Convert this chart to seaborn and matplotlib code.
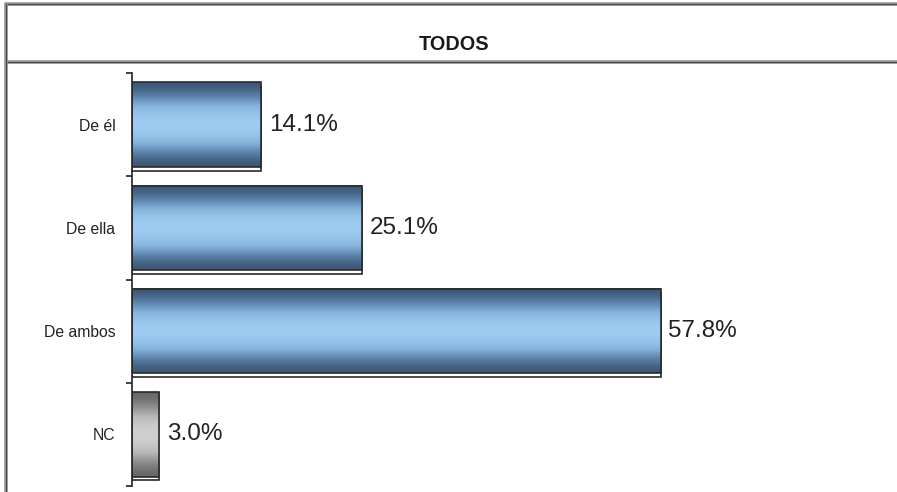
import numpy as np
import matplotlib
matplotlib.use("Agg")
import matplotlib.pyplot as plt
from matplotlib.colors import LinearSegmentedColormap
from matplotlib.patches import Rectangle
from matplotlib.lines import Line2D
import seaborn as sns

# data
categories = ["De él", "De ella", "De ambos", "NC"]
values = [14.1, 25.1, 57.8, 3.0]
value_labels = ["14.1%", "25.1%", "57.8%", "3.0%"]
title = "TODOS"

sns.set_theme(style="white")
plt.rcParams["font.family"] = ["Liberation Sans", "DejaVu Sans"]

W, H = 897, 492
fig = plt.figure(figsize=(W / 100, H / 100), dpi=100)
ax = fig.add_axes([132 / W, 1 - 486 / H, (891 - 132) / W, (486 - 73) / H])

sns.barplot(x=values, y=categories, orient="h", ax=ax, width=0.82,
            color="#7fa8cf", saturation=1, edgecolor="#2a2a2a", linewidth=1.2)

blue = LinearSegmentedColormap.from_list("blue", ["#3d5876", "#5f86ad", "#86b4de", "#9ecbef"])
grey = LinearSegmentedColormap.from_list("grey", ["#686868", "#8f8f8f", "#b8b8b8", "#d0d0d0"])
t = np.linspace(0, 1, 256)
grad = (np.sin(np.pi * t) ** 1.7).reshape(-1, 1)

for i, p in enumerate(ax.patches):
    x0, y0, w, h = p.get_x(), p.get_y(), p.get_width(), p.get_height()
    cmap = grey if categories[i] == "NC" else blue
    # drop shadow below the bar
    ax.add_patch(Rectangle((x0, y0 + 0.035), w, h, facecolor="white",
                           edgecolor="#2a2a2a", lw=1.2, zorder=1))
    ax.imshow(grad, extent=[x0, x0 + w, y0 + h, y0], aspect="auto",
              cmap=cmap, vmin=0, vmax=1, zorder=2, interpolation="bilinear")
    p.set_facecolor("none")
    p.set_zorder(3)
    ax.text(x0 + w + 0.85, y0 + h / 2, value_labels[i], ha="left", va="center",
            fontsize=17.5, color="#222222")

ax.set_xlim(0, 83)
ax.set_ylim(3.5, -0.5)

for s in ["top", "right", "bottom"]:
    ax.spines[s].set_visible(False)
ax.spines["left"].set_color("#222222")
ax.spines["left"].set_linewidth(1.2)
ax.set_xticks([])
ax.set_xlabel("")
ax.set_ylabel("")
ax.set_yticks(range(len(categories)))
ax.set_yticklabels(categories, fontsize=11.3, color="#222222")
ax.set_yticks(np.arange(-0.5, len(categories), 1), minor=True)
ax.tick_params(axis="y", which="major", length=0, pad=12)
ax.tick_params(axis="y", which="minor", length=4, width=1.2, color="#222222", left=True)

# table frame around the chart
def frame_line(x, y):
    fig.add_artist(Line2D(x, y, transform=fig.transFigure, color="#9a9a9a", lw=2.6))
    fig.add_artist(Line2D(x, y, transform=fig.transFigure, color="#4a4a4a", lw=0.9))

frame_line([6 / W, 1], [1 - 4 / H, 1 - 4 / H])
frame_line([6 / W, 1], [1 - 62 / H, 1 - 62 / H])
frame_line([6 / W, 6 / W], [0, 1 - 4 / H])

fig.text(454 / W, 1 - 45 / H, title, ha="center", va="center",
         fontsize=14.3, fontweight="bold", color="#1a1a1a")

fig.savefig("out.png", dpi=100)
